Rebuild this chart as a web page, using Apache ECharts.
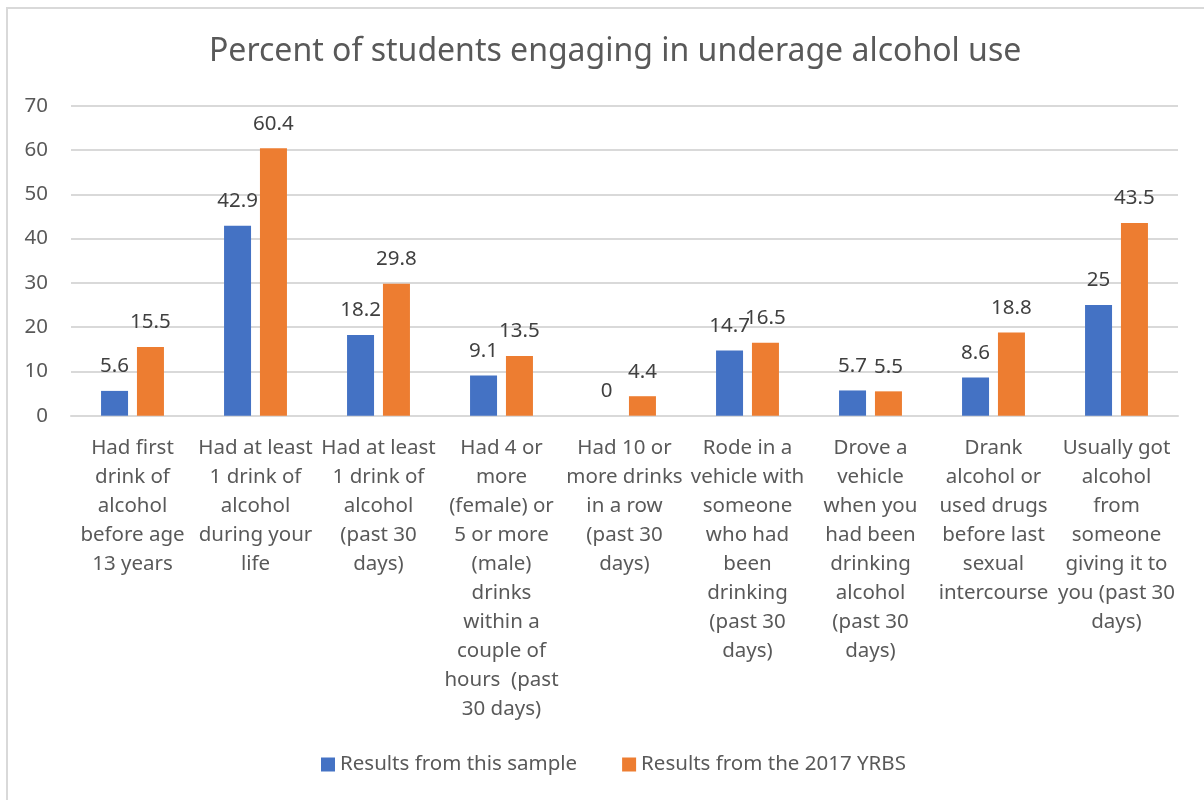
<!DOCTYPE html>
<html>
<head>
<meta charset="utf-8">
<script src="https://cdn.jsdelivr.net/npm/echarts@6/dist/echarts.min.js"></script>
<style>
html,body{margin:0;padding:0;background:#fff;}
#frame{position:absolute;left:6px;top:7px;width:1198px;height:793px;border-left:2px solid #d9d9d9;border-top:2px solid #d9d9d9;box-sizing:border-box;}
#chart{position:absolute;left:0;top:0;width:1204px;height:800px;}
</style>
</head>
<body>
<div id="frame"></div>
<div id="chart"></div>
<script>
var titleText = 'Percent of students engaging in underage alcohol use';
var categories = [
  'Had first\ndrink of\nalcohol\nbefore age\n13 years',
  'Had at least\n1 drink of\nalcohol\nduring your\nlife',
  'Had at least\n1 drink of\nalcohol\n(past 30\ndays)',
  'Had 4 or\nmore\n(female) or\n5 or more\n(male)\ndrinks\nwithin a\ncouple of\nhours  (past\n30 days)',
  'Had 10 or\nmore drinks\nin a row\n(past 30\ndays)',
  'Rode in a\nvehicle with\nsomeone\nwho had\nbeen\ndrinking\n(past 30\ndays)',
  'Drove a\nvehicle\nwhen you\nhad been\ndrinking\nalcohol\n(past 30\ndays)',
  'Drank\nalcohol or\nused drugs\nbefore last\nsexual\nintercourse',
  'Usually got\nalcohol\nfrom\nsomeone\ngiving it to\nyou (past 30\ndays)'
];
var seriesNames = ['Results from this sample', 'Results from the 2017 YRBS'];
var sampleValues = [5.6, 42.9, 18.2, 9.1, 0, 14.7, 5.7, 8.6, 25];
var yrbsValues = [15.5, 60.4, 29.8, 13.5, 4.4, 16.5, 5.5, 18.8, 43.5];
var yTicks = {min: 0, max: 70, interval: 10};

var FONT = 'Noto Sans';
var chart = echarts.init(document.getElementById('chart'));
chart.setOption({
  animation: false,
  title: {
    text: titleText, left: 204, top: 31,
    textStyle: {fontFamily: FONT, fontSize: 32, fontWeight: 'normal', color: '#595959'}
  },
  grid: {left: 71, right: 26, top: 105.7, bottom: 384.3},
  legend: {
    bottom: 20, left: 316, itemGap: 45, itemWidth: 14, itemHeight: 14,
    icon: 'rect',
    textStyle: {fontFamily: FONT, fontSize: 20.5, color: '#595959'}
  },
  xAxis: {
    type: 'category', data: categories,
    axisLine: {lineStyle: {color: '#d9d9d9', width: 2}},
    axisTick: {show: false},
    axisLabel: {interval: 0, margin: 18, fontFamily: FONT, fontSize: 20.5, lineHeight: 29, color: '#595959', align: 'center', verticalAlign: 'top'}
  },
  yAxis: {
    type: 'value', min: yTicks.min, max: yTicks.max, interval: yTicks.interval,
    axisLine: {show: false}, axisTick: {show: false},
    splitLine: {lineStyle: {color: '#d9d9d9', width: 2}},
    axisLabel: {margin: 23, fontFamily: FONT, fontSize: 20.5, color: '#595959'}
  },
  series: [
    {name: seriesNames[0], type: 'bar', data: sampleValues, barWidth: 27, barGap: '33%',
     itemStyle: {color: '#4472c4'},
     label: {show: true, position: 'top', distance: 14, fontFamily: FONT, fontSize: 20.5, color: '#404040'}},
    {name: seriesNames[1], type: 'bar', data: yrbsValues, barWidth: 27,
     itemStyle: {color: '#ed7d31'},
     label: {show: true, position: 'top', distance: 14, fontFamily: FONT, fontSize: 20.5, color: '#404040'}}
  ]
});
</script>
</body>
</html>
